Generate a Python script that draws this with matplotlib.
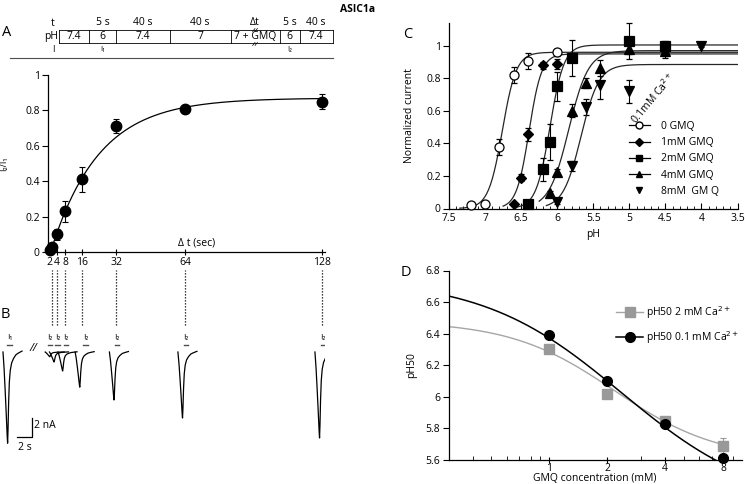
import numpy as np
import matplotlib.pyplot as plt
from matplotlib.lines import Line2D

W, H = 745, 484

# ---- panel A: recovery of I2/I1 vs interval
dt = [1, 2, 4, 8, 16, 32, 64, 128]
ratio = [0.01, 0.03, 0.10, 0.23, 0.41, 0.71, 0.81, 0.85]
ratio_err = [0.0, 0.0, 0.03, 0.06, 0.07, 0.04, 0.01, 0.04]
dt_ticks = [2, 4, 8, 16, 32, 64, 128]
fit_plateau, fit_tau, fit_delay = 0.87, 22.4, 1.2

# protocol table above A
cell_edges = [58.5, 89, 116, 170, 230.5, 279.5, 299.5, 333]
cell_ph = ["7.4", "6", "7.4", "7", "7 + GMQ", "6", "7.4"]
cell_t = ["", "5 s", "40 s", "40 s", "\u0394t", "5 s", "40 s"]
cell_i = ["", "I\u2081", "", "", "", "I\u2082", ""]

# ---- panel B: example traces (nA)
i1_amp = 9.6
i2_amp = [0.5, 1.05, 2.0, 3.7, 5.05, 6.95, 9.05]
trace_t = [0, 0.15, 0.30, 0.45, 0.58, 0.64, 0.70, 0.78, 0.88, 1.01, 1.2, 1.47, 1.8, 2.17, 2.64]
trace_shape = [0, -0.18, -0.42, -0.68, -0.92, -1.0, -0.85, -0.56, -0.33, -0.20, -0.12,
               -0.07, -0.03, -0.01, 0.01]

# ---- panel C: pH dose response
ph_0 = [7.2, 7.0, 6.8, 6.6, 6.4, 6.0]
cur_0 = [0.02, 0.03, 0.38, 0.82, 0.905, 0.96]
err_0 = [0.01, 0.01, 0.05, 0.05, 0.05, 0.02]
ph_1 = [6.6, 6.5, 6.4, 6.2, 6.0]
cur_1 = [0.025, 0.19, 0.455, 0.88, 0.89]
err_1 = [0.01, 0.02, 0.04, 0.02, 0.03]
ph_2 = [6.4, 6.2, 6.1, 6.0, 5.8, 5.0, 4.5]
cur_2 = [0.03, 0.24, 0.41, 0.75, 0.925, 1.03, 1.0]
err_2 = [0.01, 0.07, 0.11, 0.09, 0.11, 0.11, 0.03]
ph_4 = [6.1, 6.0, 5.8, 5.6, 5.4, 5.0, 4.5]
cur_4 = [0.095, 0.225, 0.6, 0.77, 0.865, 0.98, 0.97]
err_4 = [0.01, 0.02, 0.04, 0.03, 0.05, 0.03, 0.03]
ph_8 = [6.0, 5.8, 5.6, 5.4, 5.0, 4.5, 4.0]
cur_8 = [0.04, 0.26, 0.625, 0.76, 0.72, 0.965, 1.0]
err_8 = [0.01, 0.03, 0.05, 0.09, 0.07, 0.04, 0.01]
# Hill fits: pH50, top, slope
hill = {"0": (6.76, 0.96, 4.5), "1": (6.39, 0.95, 5.0), "2": (6.10, 1.005, 4.5),
        "4": (5.84, 0.97, 3.2), "8": (5.67, 0.885, 3.5)}

# ---- panel D: pH50 vs GMQ
conc = [1, 2, 4, 8]
ph50_ca2 = [6.30, 6.02, 5.85, 5.69]
ph50_ca2_err = [0.01, 0.01, 0.01, 0.05]
ph50_ca01 = [6.39, 6.10, 5.83, 5.61]
fit_ca2 = (6.48, 5.6, 2.18, 1.6)
fit_ca01 = (6.75, 5.3, 2.38, 1.2)

plt.rcParams['font.family'] = ['Open Sans', 'DejaVu Sans']
plt.rcParams['font.size'] = 7.5

fig = plt.figure(figsize=(W / 100, H / 100), dpi=100)


def px_axes(left, top, right, bottom):
    return fig.add_axes([left / W, 1 - bottom / H, (right - left) / W, (bottom - top) / H])


# overlay in pixel coordinates for labels and the protocol box
ov = fig.add_axes([0, 0, 1, 1])
ov.set_xlim(0, W)
ov.set_ylim(H, 0)
ov.axis('off')
ov.set_zorder(10)

ov.text(358, 10, "ASIC1a", ha='center', va='center', fontsize=7.5, fontweight='bold')
for lab, x, y in [("A", 7, 33), ("B", 5, 315), ("C", 408, 35), ("D", 406, 273)]:
    ov.text(x, y, lab, ha='center', va='center', fontsize=10.5)

box_top, box_bot = 30, 43
ov.plot([cell_edges[0], cell_edges[-1]], [box_top, box_top], 'k', lw=0.6)
ov.plot([cell_edges[0], cell_edges[-1]], [box_bot, box_bot], 'k', lw=0.6)
for xe in cell_edges:
    ov.plot([xe, xe], [box_top, box_bot], 'k', lw=0.6)
ov.text(53, 23, "t", ha='center', va='center')
ov.text(51, 36.5, "pH", ha='center', va='center')
ov.text(53, 50, "I", ha='center', va='center', fontsize=6.5)
for i in range(len(cell_ph)):
    xc = (cell_edges[i] + cell_edges[i + 1]) / 2
    ov.text(xc, 36.5, cell_ph[i], ha='center', va='center')
    ov.text(xc, 22.5, cell_t[i], ha='center', va='center')
    ov.text(xc, 50, cell_i[i], ha='center', va='center', fontsize=5.5)
# break marks across the box edges at the GMQ cell
xgmq = (cell_edges[4] + cell_edges[5]) / 2
for yb in (box_top, box_bot + 1):
    for dx_ in (-1.2, 1.2):
        ov.plot([xgmq + dx_ - 1.2, xgmq + dx_ + 1.2], [yb + 1.5, yb - 1.5], 'k', lw=0.5)
ov.plot([10, 333], [58, 58], color='0.3', lw=0.8)

# ---- A
ax = px_axes(48, 75, 325, 252)
tt = np.linspace(fit_delay, 129, 300)
ax.plot(tt, fit_plateau * (1 - np.exp(-(tt - fit_delay) / fit_tau)), 'k', lw=0.9)
ax.errorbar(dt, ratio, yerr=ratio_err, fmt='o', color='k', ms=7.5, capsize=2,
            elinewidth=0.8, capthick=0.8, clip_on=False, zorder=3)
ax.set_xlim(0, 129.5)
ax.set_ylim(0, 1)
ax.set_xticks(dt_ticks)
ax.set_yticks([0, 0.2, 0.4, 0.6, 0.8, 1])
ax.set_yticklabels(["0", "0.2", "0.4", "0.6", "0.8", "1"])
ax.tick_params(axis='x', direction='inout', length=5, width=0.8, pad=1)
ax.tick_params(axis='y', direction='out', length=4, width=0.8, pad=2)
xt = ax.get_xticklabels()
xt[0].set_horizontalalignment('right')
ax.spines['top'].set_visible(False)
ax.spines['right'].set_visible(False)
for s in ax.spines.values():
    s.set_linewidth(0.9)
ax.set_ylabel("I\u2082/I\u2081", fontsize=6.5, labelpad=12)
ax.text(61, 0.05, "\u0394 t (sec)", ha='left', va='center')

# ---- B
bx = px_axes(0, 265, 325, 460)
bx.set_xlim(-22.4, 129.4)
bx.set_ylim(-11.37, 9.16)
bx.axis('off')
u_per_s = 7.2 / 2.14
shape_t = np.array(trace_t) * u_per_s
shape_y = np.array(trace_shape)
label_shift = [-1.0, 0.4, 0.4, 1.5, 0.2, 0.5, 0.4]
bx.vlines(dt_ticks, 2.84, 8.63, colors='k', linestyles=(0, (1, 1.4)), lw=0.9)
bx.plot(-21.0 + shape_t, shape_y * i1_amp, 'k', lw=0.9)
bx.text(-17.8, 1.5, "I\u2081", ha='center', va='center', fontsize=6)
bx.plot([-19.0, -16.6], [0.74, 0.74], color='0.3', lw=1)
for x0, amp, sh in zip(dt_ticks, i2_amp, label_shift):
    bx.plot(x0 - 3.3 + shape_t, shape_y * amp, 'k', lw=0.9)
    bx.text(x0 + sh, 1.5, "I\u2082", ha='center', va='center', fontsize=6)
    bx.plot([x0 + sh - 1.1, x0 + sh + 1.1], [0.74, 0.74], color='0.3', lw=1)
bx.text(-7.0, 0.4, "//", ha='center', va='center', fontsize=8, style='italic')
bx.plot([-7.6 - 2 * u_per_s, -7.6, -7.6], [-8.92, -8.92, -6.92], 'k', lw=0.9)
bx.text(-6.4, -7.7, "2 nA", ha='left', va='center')
bx.text(-7.6 - u_per_s, -9.5, "2 s", ha='center', va='top')

# ---- C
cx = px_axes(449, 23, 737.5, 208.5)
series = [("0", ph_0, cur_0, err_0, 'o', 'white', "0 GMQ"),
          ("1", ph_1, cur_1, err_1, 'D', 'k', "1mM GMQ"),
          ("2", ph_2, cur_2, err_2, 's', 'k', "2mM GMQ"),
          ("4", ph_4, cur_4, err_4, '^', 'k', "4mM GMQ"),
          ("8", ph_8, cur_8, err_8, 'v', 'k', "8mM  GM Q")]
handles = []
for key, ph, cur, err, mk, fc, lab in series:
    p50, top, n = hill[key]
    xx = np.linspace(ph[0] + 0.15, 3.5, 300)
    cx.plot(xx, top / (1 + 10 ** (n * (xx - p50))), color='0.15', lw=0.9)
    ms = 5.5 if mk == 'D' else 6.5
    cx.errorbar(ph, cur, yerr=err, fmt=mk, color='k', mfc=fc, mec='k', ms=ms, capsize=2,
                elinewidth=0.8, capthick=0.8, mew=0.9, clip_on=False, zorder=3)
    handles.append(Line2D([], [], color='k', lw=0.9 if key != "8" else 0, marker=mk,
                          mfc=fc, mec='k', ms=5 if mk != 'D' else 4.5, label=lab))
cx.set_xlim(7.5, 3.5)
cx.set_ylim(0, 1.14)
cx.set_xticks([7.5, 7, 6.5, 6, 5.5, 5, 4.5, 4, 3.5])
cx.set_xticklabels(["7.5", "7", "6.5", "6", "5.5", "5", "4.5", "4", "3.5"])
cx.set_xticks(np.arange(3.5, 7.51, 0.1), minor=True)
cx.set_yticks([0, 0.2, 0.4, 0.6, 0.8, 1])
cx.set_yticklabels(["0", "0.2", "0.4", "0.6", "0.8", "1"])
cx.tick_params(axis='x', which='major', direction='in', length=4, width=0.8, pad=3)
cx.tick_params(axis='x', which='minor', direction='in', length=2, width=0.6)
cx.tick_params(axis='y', direction='out', length=4, width=0.8, pad=2)
cx.spines['top'].set_visible(False)
cx.spines['right'].set_visible(False)
for s in cx.spines.values():
    s.set_linewidth(0.9)
cx.set_xlabel("pH", labelpad=4)
cx.set_ylabel("Normalized current", labelpad=8)
cx.legend(handles=handles, loc='upper left', bbox_to_anchor=(629 / W, 1 - 121 / H),
          bbox_transform=fig.transFigure, frameon=False, borderpad=0, borderaxespad=0,
          handlelength=2.0, handletextpad=1.1, labelspacing=0.5, fontsize=7.5)
ov.text(653, 98, "0.1mM Ca$^{2+}$", rotation=50, ha='center', va='center', fontsize=7.5)

# ---- D
dx = px_axes(448.6, 270.5, 741.7, 460)
cc = np.logspace(np.log10(0.3), np.log10(8), 300)
t2, b2, ic2, h2 = fit_ca2
t1, b1, ic1, h1 = fit_ca01
dx.plot(cc, b2 + (t2 - b2) / (1 + (cc / ic2) ** h2), color='0.65', lw=1)
dx.plot(cc, b1 + (t1 - b1) / (1 + (cc / ic1) ** h1), color='k', lw=1.1)
dx.errorbar(conc, ph50_ca2, yerr=ph50_ca2_err, fmt='s', color='0.6', ms=6.5, capsize=2,
            elinewidth=0.8, capthick=0.8, clip_on=False, zorder=3)
dx.plot(conc, ph50_ca01, 'o', color='k', ms=7, clip_on=False, zorder=4)
dx.set_xscale('log')
dx.set_xlim(0.3, 10)
dx.set_ylim(5.6, 6.8)
dx.set_xticks(conc)
dx.set_xticklabels(["1", "2", "4", "8"])
dx.set_xticks([0.4, 0.5, 0.6, 0.7, 0.8, 0.9, 3, 5, 6, 7, 9], minor=True)
dx.xaxis.set_minor_formatter(plt.NullFormatter())
dx.set_yticks([5.6, 5.8, 6.0, 6.2, 6.4, 6.6, 6.8])
dx.set_yticklabels(["5.6", "5.8", "6", "6.2", "6.4", "6.6", "6.8"])
dx.tick_params(axis='x', which='major', direction='inout', length=5, width=0.8, pad=0)
dx.tick_params(axis='x', which='minor', direction='in', length=3, width=0.6)
dx.tick_params(axis='y', direction='out', length=4, width=0.8, pad=2)
dx.spines['top'].set_visible(False)
dx.spines['right'].set_visible(False)
for s in dx.spines.values():
    s.set_linewidth(0.9)
dx.set_xlabel("GMQ concentration (mM)", labelpad=-1)
dx.set_ylabel("pH50", labelpad=6)
dh = [Line2D([], [], color='0.65', lw=1, marker='s', mfc='0.6', mec='0.6', ms=7,
             label="pH50 2 mM Ca$^{2+}$"),
      Line2D([], [], color='k', lw=1.1, marker='o', ms=7, label="pH50 0.1 mM Ca$^{2+}$")]
dx.legend(handles=dh, loc='upper left', bbox_to_anchor=(616 / W, 1 - 304 / H),
          bbox_transform=fig.transFigure, frameon=False, borderpad=0, borderaxespad=0,
          handlelength=2.6, handletextpad=0.3, labelspacing=0.8, fontsize=7.5)

fig.savefig("out.png", dpi=100)
